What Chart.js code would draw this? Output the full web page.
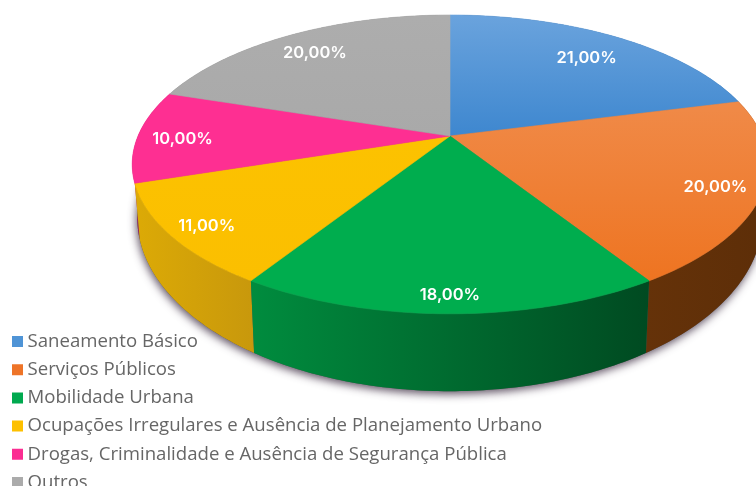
<!DOCTYPE html>
<html lang="pt-BR">
<head>
<meta charset="utf-8">
<style>html,body{margin:0;padding:0;background:#fff;overflow:hidden}canvas{display:block;filter:blur(0.45px)}</style>
<script src="https://cdn.jsdelivr.net/npm/chart.js@4"></script>
</head>
<body>
<canvas id="c" width="756" height="486"></canvas>
<script>
const categories = [
  "Saneamento Básico",
  "Serviços Públicos",
  "Mobilidade Urbana",
  "Ocupações Irregulares e Ausência de Planejamento Urbano",
  "Drogas, Criminalidade e Ausência de Segurança Pública",
  "Outros"
];
const shares = [21, 20, 18, 11, 10, 20];
const legendColors = ["#4f94d6", "#ee7428", "#00a94f", "#fdc000", "#fb2d92", "#ababab"];
const topLight = ["#6aa3dd", "#f08a48", "#00ad4e", "#fcc200", "#fe2f92", "#adadad"];
const topDark  = ["#3e87cf", "#ee7421", "#00ad4e", "#fbbf00", "#fe2f92", "#a9a9a9"];
const wallLeft  = ["#2a5a8c", "#653209", "#008c3e", "#dcaa06", "#a01d5e", "#777777"];
const wallRight = ["#2a5a8c", "#5d2e08", "#004a21", "#c8980c", "#a01d5e", "#777777"];
const labelDepth = [0.80, 0.86, 0.90, 0.885, 0.857, 0.83];

// Tilted-disc projection for the pie (angles come from the chart's arc elements)
const view = { cx: 450, p: 0.19,
  top: { a: 312, b: 144, c: 136 },
  bottom: { a: 307, b: 167, c: 185 } };

function project(plane, angle, r) {
  const u = Math.cos(angle) * r, v = Math.sin(angle) * r, w = 1 - view.p * v;
  return [view.cx + plane.a * u / w, plane.c + plane.b * v / w];
}
function arcPoints(plane, a0, a1) {
  const n = Math.max(2, Math.ceil(Math.abs(a1 - a0) / 0.015)), pts = [];
  for (let i = 0; i <= n; i++) pts.push(project(plane, a0 + (a1 - a0) * i / n, 1));
  return pts;
}
function trace(ctx, pts) {
  pts.forEach((p, i) => i ? ctx.lineTo(p[0], p[1]) : ctx.moveTo(p[0], p[1]));
}

const pie3d = {
  id: 'pie3d',
  afterLayout(chart) {
    const lg = chart.legend, w = lg.width, h = lg.height;
    lg.left = 7.15; lg.top = 322.6; lg.right = lg.left + w; lg.bottom = lg.top + h;
  },
  beforeDatasetsDraw(chart) {
    const ctx = chart.ctx, arcs = chart.getDatasetMeta(0).data;
    ctx.save();
    // contact shadow under the disc
    ctx.save();
    ctx.shadowColor = 'rgba(70,55,75,0.85)';
    ctx.shadowBlur = 9;
    ctx.shadowOffsetY = 3;
    ctx.shadowOffsetX = -1;
    ctx.fillStyle = '#555';
    ctx.beginPath();
    trace(ctx, arcPoints(view.bottom, 0, Math.PI * 2));
    ctx.closePath();
    ctx.fill();
    ctx.restore();
    // side wall, back to front
    const order = arcs.map((_, i) => i).sort((i, j) =>
      Math.sin((arcs[i].startAngle + arcs[i].endAngle) / 2) -
      Math.sin((arcs[j].startAngle + arcs[j].endAngle) / 2));
    order.forEach(i => {
      const t = arcPoints(view.top, arcs[i].startAngle, arcs[i].endAngle);
      const b = arcPoints(view.bottom, arcs[i].startAngle, arcs[i].endAngle);
      const xs = t.concat(b).map(p => p[0]);
      const g = ctx.createLinearGradient(Math.min(...xs), 0, Math.max(...xs), 0);
      g.addColorStop(0, wallLeft[i]);
      g.addColorStop(1, wallRight[i]);
      ctx.fillStyle = g;
      ctx.beginPath();
      trace(ctx, t.concat(b.reverse()));
      ctx.closePath();
      ctx.fill();
    });
    // top face
    arcs.forEach((arc, i) => {
      const pts = arcPoints(view.top, arc.startAngle, arc.endAngle);
      const ys = pts.map(p => p[1]).concat(view.top.c);
      const g = ctx.createLinearGradient(0, Math.min(...ys), 0, Math.max(...ys));
      g.addColorStop(0, topLight[i]);
      g.addColorStop(1, topDark[i]);
      ctx.fillStyle = g;
      ctx.strokeStyle = g;
      ctx.lineWidth = 0.6;
      ctx.beginPath();
      ctx.moveTo(view.cx, view.top.c);
      pts.forEach(p => ctx.lineTo(p[0], p[1]));
      ctx.closePath();
      ctx.fill();
      ctx.stroke();
    });
    ctx.restore();
    return false;
  },
  afterDraw(chart) {
    const ctx = chart.ctx, arcs = chart.getDatasetMeta(0).data;
    ctx.save();
    ctx.font = '600 16.5px "Inter"';
    ctx.fillStyle = '#ffffff';
    ctx.textAlign = 'center';
    ctx.textBaseline = 'middle';
    arcs.forEach((arc, i) => {
      const mid = (arc.startAngle + arc.endAngle) / 2;
      const p = project(view.top, mid, labelDepth[i]);
      ctx.fillText(shares[i].toFixed(2).replace('.', ',') + '%', p[0], p[1] + 3);
    });
    ctx.restore();
  }
};

new Chart(document.getElementById('c'), {
  type: 'pie',
  data: {
    labels: categories,
    datasets: [{ data: shares, backgroundColor: legendColors, borderWidth: 0 }]
  },
  options: {
    responsive: false,
    animation: false,
    layout: { padding: 0 },
    plugins: {
      tooltip: { enabled: false },
      legend: {
        position: 'left',
        align: 'start',
        maxWidth: 700,
        labels: {
          usePointStyle: true,
          pointStyle: 'rect',
          boxWidth: 1.5,
          boxHeight: 11,
          padding: 9.6,
          color: '#666666',
          font: { family: '"Open Sans"', size: 18.6 }
        }
      }
    }
  },
  plugins: [pie3d]
});
</script>
</body>
</html>
